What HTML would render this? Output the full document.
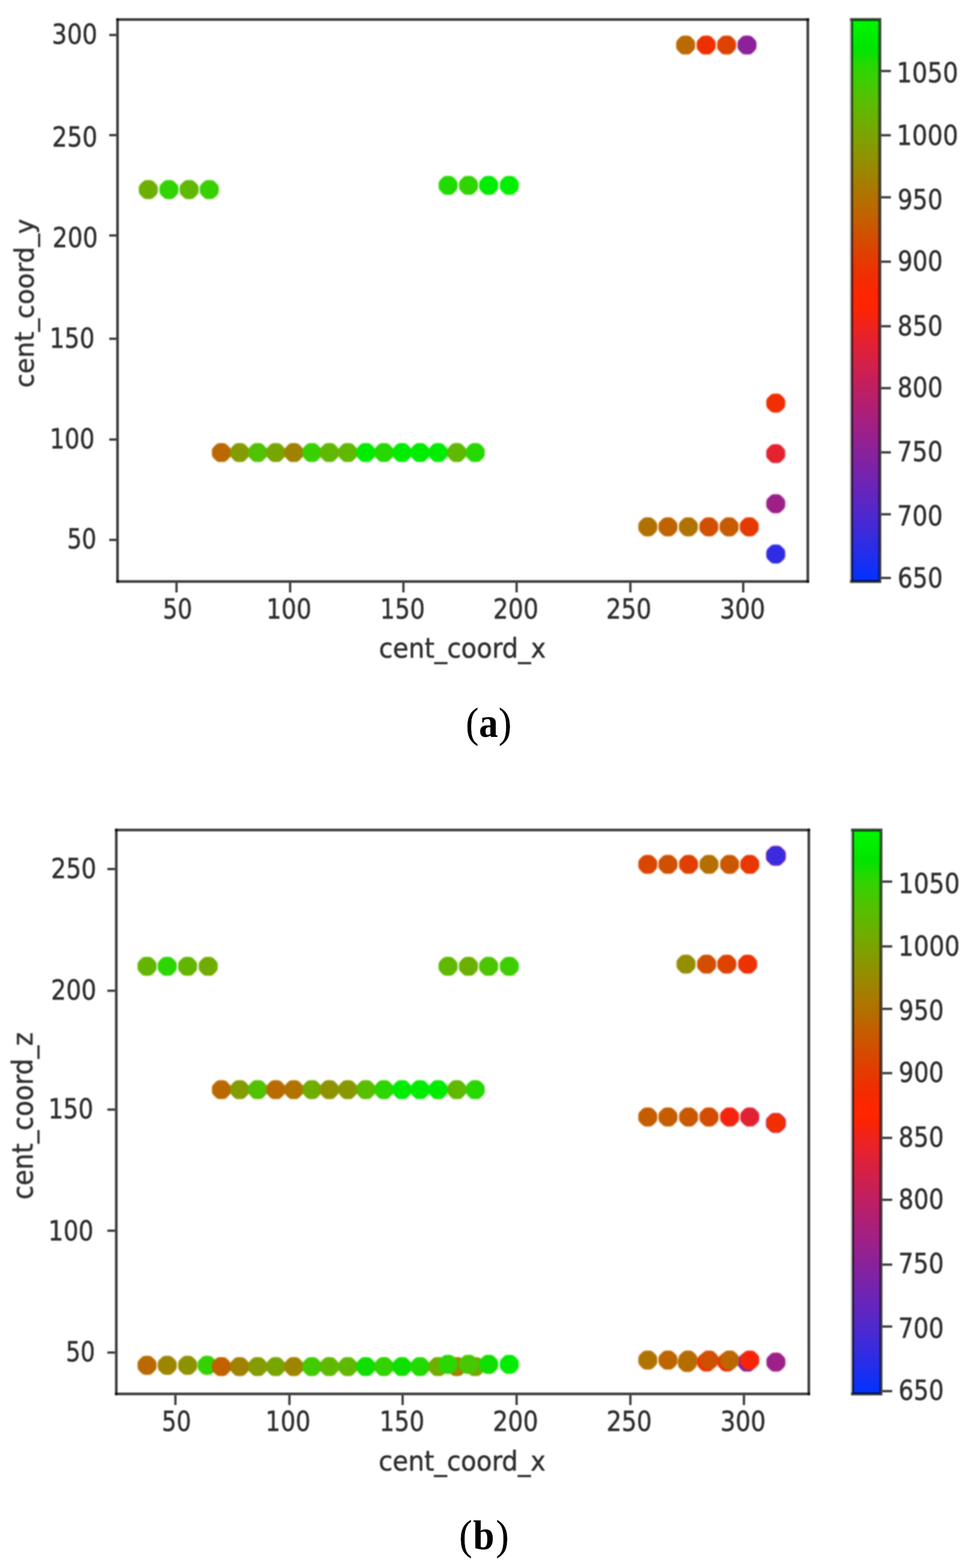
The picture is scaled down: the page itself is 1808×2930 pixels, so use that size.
<!DOCTYPE html>
<html lang="en"><head><meta charset="utf-8"><title>Figure: cent_coord scatter plots</title>
<style>html,body{margin:0;padding:0;background:#fff}svg{display:block}</style></head><body>
<svg width="1808" height="2930" viewBox="0 0 1808 2930">
<defs>
<filter id="bl" filterUnits="userSpaceOnUse" x="0" y="0" width="1808" height="2930" color-interpolation-filters="sRGB"><feGaussianBlur stdDeviation="1.3"/></filter>
<filter id="bd" filterUnits="userSpaceOnUse" x="0" y="0" width="1808" height="2930" color-interpolation-filters="sRGB"><feGaussianBlur stdDeviation="1.5"/></filter>
<linearGradient id="cmap" x1="0" y1="0" x2="0" y2="1"><stop offset="0.0000" stop-color="#00f900"/><stop offset="0.0125" stop-color="#00f400"/><stop offset="0.0250" stop-color="#00ef00"/><stop offset="0.0375" stop-color="#00ea00"/><stop offset="0.0500" stop-color="#00e500"/><stop offset="0.0625" stop-color="#0be000"/><stop offset="0.0750" stop-color="#1fdb00"/><stop offset="0.0875" stop-color="#2dd600"/><stop offset="0.1000" stop-color="#37d100"/><stop offset="0.1125" stop-color="#41cb00"/><stop offset="0.1250" stop-color="#4ac600"/><stop offset="0.1375" stop-color="#53c100"/><stop offset="0.1500" stop-color="#5bbc00"/><stop offset="0.1625" stop-color="#62b600"/><stop offset="0.1750" stop-color="#6ab100"/><stop offset="0.1875" stop-color="#71ac00"/><stop offset="0.2000" stop-color="#78a600"/><stop offset="0.2125" stop-color="#7ea100"/><stop offset="0.2250" stop-color="#859b00"/><stop offset="0.2375" stop-color="#8b9500"/><stop offset="0.2500" stop-color="#929000"/><stop offset="0.2625" stop-color="#988a00"/><stop offset="0.2750" stop-color="#9e8400"/><stop offset="0.2875" stop-color="#a47e00"/><stop offset="0.3000" stop-color="#aa7900"/><stop offset="0.3125" stop-color="#b07300"/><stop offset="0.3250" stop-color="#b66d00"/><stop offset="0.3375" stop-color="#bc6700"/><stop offset="0.3500" stop-color="#c26100"/><stop offset="0.3625" stop-color="#c75b00"/><stop offset="0.3750" stop-color="#cd5400"/><stop offset="0.3875" stop-color="#d24e00"/><stop offset="0.4000" stop-color="#d84800"/><stop offset="0.4125" stop-color="#dd4200"/><stop offset="0.4250" stop-color="#e33c00"/><stop offset="0.4375" stop-color="#e83700"/><stop offset="0.4500" stop-color="#ed3100"/><stop offset="0.4625" stop-color="#f22d00"/><stop offset="0.4750" stop-color="#f82900"/><stop offset="0.4875" stop-color="#fd2600"/><stop offset="0.5000" stop-color="#ff2600"/><stop offset="0.5125" stop-color="#fd2500"/><stop offset="0.5250" stop-color="#f8240a"/><stop offset="0.5375" stop-color="#f22316"/><stop offset="0.5500" stop-color="#ed2320"/><stop offset="0.5625" stop-color="#e82229"/><stop offset="0.5750" stop-color="#e32132"/><stop offset="0.5875" stop-color="#dd213a"/><stop offset="0.6000" stop-color="#d82042"/><stop offset="0.6125" stop-color="#d32049"/><stop offset="0.6250" stop-color="#cd2051"/><stop offset="0.6375" stop-color="#c81f58"/><stop offset="0.6500" stop-color="#c21f5f"/><stop offset="0.6625" stop-color="#bc1f66"/><stop offset="0.6750" stop-color="#b71f6c"/><stop offset="0.6875" stop-color="#b11f73"/><stop offset="0.7000" stop-color="#ab1f79"/><stop offset="0.7125" stop-color="#a62080"/><stop offset="0.7250" stop-color="#a02086"/><stop offset="0.7375" stop-color="#9a208c"/><stop offset="0.7500" stop-color="#942192"/><stop offset="0.7625" stop-color="#8e2198"/><stop offset="0.7750" stop-color="#87229e"/><stop offset="0.7875" stop-color="#8122a4"/><stop offset="0.8000" stop-color="#7b23aa"/><stop offset="0.8125" stop-color="#7424af"/><stop offset="0.8250" stop-color="#6e24b5"/><stop offset="0.8375" stop-color="#6725bb"/><stop offset="0.8500" stop-color="#6026c0"/><stop offset="0.8625" stop-color="#5a27c6"/><stop offset="0.8750" stop-color="#5228cb"/><stop offset="0.8875" stop-color="#4b29d0"/><stop offset="0.9000" stop-color="#442ad6"/><stop offset="0.9125" stop-color="#3c2bdb"/><stop offset="0.9250" stop-color="#342ce0"/><stop offset="0.9375" stop-color="#2c2de6"/><stop offset="0.9500" stop-color="#242eeb"/><stop offset="0.9625" stop-color="#1b2ff0"/><stop offset="0.9750" stop-color="#1230f5"/><stop offset="0.9875" stop-color="#0931fa"/><stop offset="1.0000" stop-color="#0433ff"/></linearGradient>
</defs>
<rect width="1808" height="2930" fill="#fff"/>
<g id="plot-a" font-family="'DejaVu Sans', 'Liberation Sans', sans-serif" fill="#303030">
<g filter="url(#bd)">
<polygon points="273.4,345.5 280.6,345.5 285.7,350.6 285.7,357.8 280.6,362.9 273.4,362.9 268.3,357.8 268.3,350.6" fill="#6caf00" stroke="#6caf00" stroke-width="18" stroke-linejoin="round"/>
<polygon points="311.9,345.5 319.1,345.5 324.2,350.6 324.2,357.8 319.1,362.9 311.9,362.9 306.8,357.8 306.8,350.6" fill="#30d400" stroke="#30d400" stroke-width="18" stroke-linejoin="round"/>
<polygon points="349.6,345.5 356.8,345.5 361.9,350.6 361.9,357.8 356.8,362.9 349.6,362.9 344.5,357.8 344.5,350.6" fill="#60b800" stroke="#60b800" stroke-width="18" stroke-linejoin="round"/>
<polygon points="387.3,345.5 394.5,345.5 399.6,350.6 399.6,357.8 394.5,362.9 387.3,362.9 382.2,357.8 382.2,350.6" fill="#38d100" stroke="#38d100" stroke-width="18" stroke-linejoin="round"/>
<polygon points="833.3,337.7 840.5,337.7 845.6,342.8 845.6,350.0 840.5,355.1 833.3,355.1 828.2,350.0 828.2,342.8" fill="#20db00" stroke="#20db00" stroke-width="18" stroke-linejoin="round"/>
<polygon points="871.4,337.7 878.6,337.7 883.7,342.8 883.7,350.0 878.6,355.1 871.4,355.1 866.3,350.0 866.3,342.8" fill="#30d400" stroke="#30d400" stroke-width="18" stroke-linejoin="round"/>
<polygon points="909.1,337.7 916.3,337.7 921.4,342.8 921.4,350.0 916.3,355.1 909.1,355.1 904.0,350.0 904.0,342.8" fill="#00ec00" stroke="#00ec00" stroke-width="18" stroke-linejoin="round"/>
<polygon points="947.6,337.7 954.8,337.7 959.9,342.8 959.9,350.0 954.8,355.1 947.6,355.1 942.5,350.0 942.5,342.8" fill="#00f000" stroke="#00f000" stroke-width="18" stroke-linejoin="round"/>
<polygon points="1277.0,75.4 1284.2,75.4 1289.3,80.5 1289.3,87.7 1284.2,92.8 1277.0,92.8 1271.9,87.7 1271.9,80.5" fill="#b96a00" stroke="#b96a00" stroke-width="18" stroke-linejoin="round"/>
<polygon points="1315.4,75.4 1322.6,75.4 1327.7,80.5 1327.7,87.7 1322.6,92.8 1315.4,92.8 1310.3,87.7 1310.3,80.5" fill="#ee3000" stroke="#ee3000" stroke-width="18" stroke-linejoin="round"/>
<polygon points="1353.5,75.4 1360.7,75.4 1365.8,80.5 1365.8,87.7 1360.7,92.8 1353.5,92.8 1348.4,87.7 1348.4,80.5" fill="#dc4300" stroke="#dc4300" stroke-width="18" stroke-linejoin="round"/>
<polygon points="1391.6,75.4 1398.8,75.4 1403.9,80.5 1403.9,87.7 1398.8,92.8 1391.6,92.8 1386.5,87.7 1386.5,80.5" fill="#8c2199" stroke="#8c2199" stroke-width="18" stroke-linejoin="round"/>
<polygon points="409.9,836.9 417.1,836.9 422.2,842.0 422.2,849.2 417.1,854.3 409.9,854.3 404.8,849.2 404.8,842.0" fill="#ba6900" stroke="#ba6900" stroke-width="18" stroke-linejoin="round"/>
<polygon points="444.0,836.9 451.2,836.9 456.3,842.0 456.3,849.2 451.2,854.3 444.0,854.3 438.9,849.2 438.9,842.0" fill="#849c00" stroke="#849c00" stroke-width="18" stroke-linejoin="round"/>
<polygon points="477.7,836.9 484.9,836.9 490.0,842.0 490.0,849.2 484.9,854.3 477.7,854.3 472.6,849.2 472.6,842.0" fill="#50c200" stroke="#50c200" stroke-width="18" stroke-linejoin="round"/>
<polygon points="511.5,836.9 518.7,836.9 523.8,842.0 523.8,849.2 518.7,854.3 511.5,854.3 506.4,849.2 506.4,842.0" fill="#78a600" stroke="#78a600" stroke-width="18" stroke-linejoin="round"/>
<polygon points="545.2,836.9 552.4,836.9 557.5,842.0 557.5,849.2 552.4,854.3 545.2,854.3 540.1,849.2 540.1,842.0" fill="#a18100" stroke="#a18100" stroke-width="18" stroke-linejoin="round"/>
<polygon points="578.9,836.9 586.1,836.9 591.2,842.0 591.2,849.2 586.1,854.3 578.9,854.3 573.8,849.2 573.8,842.0" fill="#38d100" stroke="#38d100" stroke-width="18" stroke-linejoin="round"/>
<polygon points="611.5,836.9 618.7,836.9 623.8,842.0 623.8,849.2 618.7,854.3 611.5,854.3 606.4,849.2 606.4,842.0" fill="#60b800" stroke="#60b800" stroke-width="18" stroke-linejoin="round"/>
<polygon points="646.0,836.9 653.2,836.9 658.3,842.0 658.3,849.2 653.2,854.3 646.0,854.3 640.9,849.2 640.9,842.0" fill="#60b800" stroke="#60b800" stroke-width="18" stroke-linejoin="round"/>
<polygon points="679.7,836.9 686.9,836.9 692.0,842.0 692.0,849.2 686.9,854.3 679.7,854.3 674.6,849.2 674.6,842.0" fill="#00ec00" stroke="#00ec00" stroke-width="18" stroke-linejoin="round"/>
<polygon points="713.5,836.9 720.7,836.9 725.8,842.0 725.8,849.2 720.7,854.3 713.5,854.3 708.4,849.2 708.4,842.0" fill="#27d800" stroke="#27d800" stroke-width="18" stroke-linejoin="round"/>
<polygon points="747.2,836.9 754.4,836.9 759.5,842.0 759.5,849.2 754.4,854.3 747.2,854.3 742.1,849.2 742.1,842.0" fill="#00ec00" stroke="#00ec00" stroke-width="18" stroke-linejoin="round"/>
<polygon points="780.9,836.9 788.1,836.9 793.2,842.0 793.2,849.2 788.1,854.3 780.9,854.3 775.8,849.2 775.8,842.0" fill="#00ec00" stroke="#00ec00" stroke-width="18" stroke-linejoin="round"/>
<polygon points="814.7,836.9 821.9,836.9 827.0,842.0 827.0,849.2 821.9,854.3 814.7,854.3 809.6,849.2 809.6,842.0" fill="#00ec00" stroke="#00ec00" stroke-width="18" stroke-linejoin="round"/>
<polygon points="849.6,836.9 856.8,836.9 861.9,842.0 861.9,849.2 856.8,854.3 849.6,854.3 844.5,849.2 844.5,842.0" fill="#60b800" stroke="#60b800" stroke-width="18" stroke-linejoin="round"/>
<polygon points="884.1,836.9 891.3,836.9 896.4,842.0 896.4,849.2 891.3,854.3 884.1,854.3 879.0,849.2 879.0,842.0" fill="#27d800" stroke="#27d800" stroke-width="18" stroke-linejoin="round"/>
<polygon points="1206.3,975.8 1213.5,975.8 1218.6,980.9 1218.6,988.1 1213.5,993.2 1206.3,993.2 1201.2,988.1 1201.2,980.9" fill="#b17100" stroke="#b17100" stroke-width="18" stroke-linejoin="round"/>
<polygon points="1244.0,975.8 1251.2,975.8 1256.3,980.9 1256.3,988.1 1251.2,993.2 1244.0,993.2 1238.9,988.1 1238.9,980.9" fill="#bf6300" stroke="#bf6300" stroke-width="18" stroke-linejoin="round"/>
<polygon points="1282.1,975.8 1289.3,975.8 1294.4,980.9 1294.4,988.1 1289.3,993.2 1282.1,993.2 1277.0,988.1 1277.0,980.9" fill="#b07300" stroke="#b07300" stroke-width="18" stroke-linejoin="round"/>
<polygon points="1320.4,975.8 1327.6,975.8 1332.7,980.9 1332.7,988.1 1327.6,993.2 1320.4,993.2 1315.3,988.1 1315.3,980.9" fill="#d15000" stroke="#d15000" stroke-width="18" stroke-linejoin="round"/>
<polygon points="1358.1,975.8 1365.3,975.8 1370.4,980.9 1370.4,988.1 1365.3,993.2 1358.1,993.2 1353.0,988.1 1353.0,980.9" fill="#c75b00" stroke="#c75b00" stroke-width="18" stroke-linejoin="round"/>
<polygon points="1395.8,975.8 1403.0,975.8 1408.1,980.9 1408.1,988.1 1403.0,993.2 1395.8,993.2 1390.7,988.1 1390.7,980.9" fill="#e63900" stroke="#e63900" stroke-width="18" stroke-linejoin="round"/>
<polygon points="1445.3,744.5 1452.5,744.5 1457.6,749.6 1457.6,756.8 1452.5,761.9 1445.3,761.9 1440.2,756.8 1440.2,749.6" fill="#f02e00" stroke="#f02e00" stroke-width="18" stroke-linejoin="round"/>
<polygon points="1445.3,838.9 1452.5,838.9 1457.6,844.0 1457.6,851.2 1452.5,856.3 1445.3,856.3 1440.2,851.2 1440.2,844.0" fill="#e42230" stroke="#e42230" stroke-width="18" stroke-linejoin="round"/>
<polygon points="1445.3,932.6 1452.5,932.6 1457.6,937.7 1457.6,944.9 1452.5,950.0 1445.3,950.0 1440.2,944.9 1440.2,937.7" fill="#9d2089" stroke="#9d2089" stroke-width="18" stroke-linejoin="round"/>
<polygon points="1445.3,1026.6 1452.5,1026.6 1457.6,1031.7 1457.6,1038.9 1452.5,1044.0 1445.3,1044.0 1440.2,1038.9 1440.2,1031.7" fill="#302ce3" stroke="#302ce3" stroke-width="18" stroke-linejoin="round"/>
</g>
<g filter="url(#bl)">
<rect x="217.0" y="34.00" width="1294.3" height="5.00" fill="#000" fill-opacity="0.75"/>
<rect x="217.0" y="1084.10" width="1294.3" height="5.00" fill="#000" fill-opacity="0.75"/>
<rect x="217.00" y="34.0" width="5.00" height="1055.1" fill="#000" fill-opacity="0.75"/>
<rect x="1506.30" y="34.0" width="5.00" height="1055.1" fill="#000" fill-opacity="0.75"/>
<rect x="327.50" y="1089.1" width="4.40" height="17.9" fill="#000" fill-opacity="0.75"/>
<text font-size="50" transform="matrix(0.8602 0 0 1.0429 304.32 1156.17)" stroke="#303030" stroke-width="0.7" stroke-linejoin="round">50</text>
<rect x="539.70" y="1089.1" width="4.40" height="17.9" fill="#000" fill-opacity="0.75"/>
<text font-size="50" transform="matrix(0.8820 0 0 1.0429 497.55 1156.17)" stroke="#303030" stroke-width="0.7" stroke-linejoin="round">100</text>
<rect x="751.30" y="1089.1" width="4.40" height="17.9" fill="#000" fill-opacity="0.75"/>
<text font-size="50" transform="matrix(0.8820 0 0 1.0429 709.70 1156.17)" stroke="#303030" stroke-width="0.7" stroke-linejoin="round">150</text>
<rect x="962.70" y="1089.1" width="4.40" height="17.9" fill="#000" fill-opacity="0.75"/>
<text font-size="50" transform="matrix(0.8881 0 0 1.0429 921.08 1156.17)" stroke="#303030" stroke-width="0.7" stroke-linejoin="round">200</text>
<rect x="1175.20" y="1089.1" width="4.40" height="17.9" fill="#000" fill-opacity="0.75"/>
<text font-size="50" transform="matrix(0.8881 0 0 1.0429 1132.08 1156.17)" stroke="#303030" stroke-width="0.7" stroke-linejoin="round">250</text>
<rect x="1386.00" y="1089.1" width="4.40" height="17.9" fill="#000" fill-opacity="0.75"/>
<text font-size="50" transform="matrix(0.8894 0 0 1.0429 1344.51 1156.17)" stroke="#303030" stroke-width="0.7" stroke-linejoin="round">300</text>
<rect x="204.0" y="63.20" width="13.0" height="4.40" fill="#000" fill-opacity="0.75"/>
<text font-size="50" transform="matrix(0.8894 0 0 1.0429 96.86 81.57)" stroke="#303030" stroke-width="0.7" stroke-linejoin="round">300</text>
<rect x="204.0" y="250.30" width="13.0" height="4.40" fill="#000" fill-opacity="0.75"/>
<text font-size="50" transform="matrix(0.8881 0 0 1.0429 97.28 274.32)" stroke="#303030" stroke-width="0.7" stroke-linejoin="round">250</text>
<rect x="204.0" y="437.80" width="13.0" height="4.40" fill="#000" fill-opacity="0.75"/>
<text font-size="50" transform="matrix(0.8881 0 0 1.0429 98.03 462.37)" stroke="#303030" stroke-width="0.7" stroke-linejoin="round">200</text>
<rect x="204.0" y="630.80" width="13.0" height="4.40" fill="#000" fill-opacity="0.75"/>
<text font-size="50" transform="matrix(0.8820 0 0 1.0429 92.55 649.57)" stroke="#303030" stroke-width="0.7" stroke-linejoin="round">150</text>
<rect x="204.0" y="819.10" width="13.0" height="4.40" fill="#000" fill-opacity="0.75"/>
<text font-size="50" transform="matrix(0.8820 0 0 1.0429 92.75 837.72)" stroke="#303030" stroke-width="0.7" stroke-linejoin="round">100</text>
<rect x="204.0" y="1006.70" width="13.0" height="4.40" fill="#000" fill-opacity="0.75"/>
<text font-size="50" transform="matrix(0.8602 0 0 1.0429 125.42 1024.97)" stroke="#303030" stroke-width="0.7" stroke-linejoin="round">50</text>
<text font-size="50" transform="matrix(0.9472 0 0 1.0184 707.80 1229.00)" stroke="#303030" stroke-width="0.7" stroke-linejoin="round">cent_coord_x</text>
<text font-size="50" transform="matrix(0 -0.9594 1.0000 0 62.90 724.54)" stroke="#303030" stroke-width="0.7" stroke-linejoin="round">cent_coord_y</text>
<rect x="1590.3" y="36.5" width="53.0" height="1050.1" fill="url(#cmap)"/>
<rect x="1587.5" y="33.70" width="58.6" height="5.60" fill="#000" fill-opacity="0.7"/>
<rect x="1587.5" y="1083.80" width="58.6" height="5.60" fill="#000" fill-opacity="0.72"/>
<rect x="1587.50" y="39.3" width="2.80" height="1044.5" fill="#000" fill-opacity="0.36"/>
<rect x="1590.30" y="39.3" width="2.80" height="1044.5" fill="#000" fill-opacity="0.76"/>
<rect x="1640.50" y="39.3" width="2.80" height="1044.5" fill="#000" fill-opacity="0.6"/>
<rect x="1643.30" y="39.3" width="2.80" height="1044.5" fill="#000" fill-opacity="0.74"/>
<rect x="1646.1" y="130.50" width="17.9" height="4.40" fill="#000" fill-opacity="0.75"/>
<text font-size="50" transform="matrix(0.9030 0 0 1.0429 1674.73 153.57)" stroke="#303030" stroke-width="0.7" stroke-linejoin="round">1050</text>
<rect x="1646.1" y="250.50" width="17.9" height="4.40" fill="#000" fill-opacity="0.75"/>
<text font-size="50" transform="matrix(0.9030 0 0 1.0429 1674.73 270.67)" stroke="#303030" stroke-width="0.7" stroke-linejoin="round">1000</text>
<rect x="1646.1" y="366.50" width="17.9" height="4.40" fill="#000" fill-opacity="0.75"/>
<text font-size="50" transform="matrix(0.8831 0 0 1.0429 1676.54 390.87)" stroke="#303030" stroke-width="0.7" stroke-linejoin="round">950</text>
<rect x="1646.1" y="486.80" width="17.9" height="4.40" fill="#000" fill-opacity="0.75"/>
<text font-size="50" transform="matrix(0.8831 0 0 1.0429 1676.54 505.87)" stroke="#303030" stroke-width="0.7" stroke-linejoin="round">900</text>
<rect x="1646.1" y="607.40" width="17.9" height="4.40" fill="#000" fill-opacity="0.75"/>
<text font-size="50" transform="matrix(0.8856 0 0 1.0429 1676.31 626.87)" stroke="#303030" stroke-width="0.7" stroke-linejoin="round">850</text>
<rect x="1646.1" y="723.10" width="17.9" height="4.40" fill="#000" fill-opacity="0.75"/>
<text font-size="50" transform="matrix(0.8856 0 0 1.0429 1676.31 742.07)" stroke="#303030" stroke-width="0.7" stroke-linejoin="round">800</text>
<rect x="1646.1" y="843.10" width="17.9" height="4.40" fill="#000" fill-opacity="0.75"/>
<text font-size="50" transform="matrix(0.8932 0 0 1.0429 1675.62 862.12)" stroke="#303030" stroke-width="0.7" stroke-linejoin="round">750</text>
<rect x="1646.1" y="958.80" width="17.9" height="4.40" fill="#000" fill-opacity="0.75"/>
<text font-size="50" transform="matrix(0.8932 0 0 1.0429 1675.62 982.12)" stroke="#303030" stroke-width="0.7" stroke-linejoin="round">700</text>
<rect x="1646.1" y="1077.80" width="17.9" height="4.40" fill="#000" fill-opacity="0.75"/>
<text font-size="50" transform="matrix(0.8869 0 0 1.0429 1676.40 1097.57)" stroke="#303030" stroke-width="0.7" stroke-linejoin="round">650</text>
</g></g>
<g id="plot-b" font-family="'DejaVu Sans', 'Liberation Sans', sans-serif" fill="#303030">
<g filter="url(#bd)">
<polygon points="271.0,2542.5 278.2,2542.5 283.3,2547.6 283.3,2554.8 278.2,2559.9 271.0,2559.9 265.9,2554.8 265.9,2547.6" fill="#ba6900" stroke="#ba6900" stroke-width="18" stroke-linejoin="round"/>
<polygon points="308.7,2542.5 315.9,2542.5 321.0,2547.6 321.0,2554.8 315.9,2559.9 308.7,2559.9 303.6,2554.8 303.6,2547.6" fill="#9e8500" stroke="#9e8500" stroke-width="18" stroke-linejoin="round"/>
<polygon points="346.8,2542.5 354.0,2542.5 359.1,2547.6 359.1,2554.8 354.0,2559.9 346.8,2559.9 341.7,2554.8 341.7,2547.6" fill="#8f9200" stroke="#8f9200" stroke-width="18" stroke-linejoin="round"/>
<polygon points="383.3,2542.5 390.5,2542.5 395.6,2547.6 395.6,2554.8 390.5,2559.9 383.3,2559.9 378.2,2554.8 378.2,2547.6" fill="#32d300" stroke="#32d300" stroke-width="18" stroke-linejoin="round"/>
<polygon points="409.9,2544.9 417.1,2544.9 422.2,2550.0 422.2,2557.2 417.1,2562.3 409.9,2562.3 404.8,2557.2 404.8,2550.0" fill="#c16100" stroke="#c16100" stroke-width="18" stroke-linejoin="round"/>
<polygon points="444.0,2544.9 451.2,2544.9 456.3,2550.0 456.3,2557.2 451.2,2562.3 444.0,2562.3 438.9,2557.2 438.9,2550.0" fill="#a18100" stroke="#a18100" stroke-width="18" stroke-linejoin="round"/>
<polygon points="477.7,2544.9 484.9,2544.9 490.0,2550.0 490.0,2557.2 484.9,2562.3 477.7,2562.3 472.6,2557.2 472.6,2550.0" fill="#849c00" stroke="#849c00" stroke-width="18" stroke-linejoin="round"/>
<polygon points="511.5,2544.9 518.7,2544.9 523.8,2550.0 523.8,2557.2 518.7,2562.3 511.5,2562.3 506.4,2557.2 506.4,2550.0" fill="#78a600" stroke="#78a600" stroke-width="18" stroke-linejoin="round"/>
<polygon points="545.2,2544.9 552.4,2544.9 557.5,2550.0 557.5,2557.2 552.4,2562.3 545.2,2562.3 540.1,2557.2 540.1,2550.0" fill="#9e8500" stroke="#9e8500" stroke-width="18" stroke-linejoin="round"/>
<polygon points="578.9,2544.9 586.1,2544.9 591.2,2550.0 591.2,2557.2 586.1,2562.3 578.9,2562.3 573.8,2557.2 573.8,2550.0" fill="#42cb00" stroke="#42cb00" stroke-width="18" stroke-linejoin="round"/>
<polygon points="611.5,2544.9 618.7,2544.9 623.8,2550.0 623.8,2557.2 618.7,2562.3 611.5,2562.3 606.4,2557.2 606.4,2550.0" fill="#5fb900" stroke="#5fb900" stroke-width="18" stroke-linejoin="round"/>
<polygon points="646.0,2544.9 653.2,2544.9 658.3,2550.0 658.3,2557.2 653.2,2562.3 646.0,2562.3 640.9,2557.2 640.9,2550.0" fill="#5fb900" stroke="#5fb900" stroke-width="18" stroke-linejoin="round"/>
<polygon points="679.7,2544.9 686.9,2544.9 692.0,2550.0 692.0,2557.2 686.9,2562.3 679.7,2562.3 674.6,2557.2 674.6,2550.0" fill="#0fdf00" stroke="#0fdf00" stroke-width="18" stroke-linejoin="round"/>
<polygon points="713.5,2544.9 720.7,2544.9 725.8,2550.0 725.8,2557.2 720.7,2562.3 713.5,2562.3 708.4,2557.2 708.4,2550.0" fill="#32d300" stroke="#32d300" stroke-width="18" stroke-linejoin="round"/>
<polygon points="747.2,2544.9 754.4,2544.9 759.5,2550.0 759.5,2557.2 754.4,2562.3 747.2,2562.3 742.1,2557.2 742.1,2550.0" fill="#0fdf00" stroke="#0fdf00" stroke-width="18" stroke-linejoin="round"/>
<polygon points="780.9,2544.9 788.1,2544.9 793.2,2550.0 793.2,2557.2 788.1,2562.3 780.9,2562.3 775.8,2557.2 775.8,2550.0" fill="#23da00" stroke="#23da00" stroke-width="18" stroke-linejoin="round"/>
<polygon points="814.7,2544.9 821.9,2544.9 827.0,2550.0 827.0,2557.2 821.9,2562.3 814.7,2562.3 809.6,2557.2 809.6,2550.0" fill="#6fad00" stroke="#6fad00" stroke-width="18" stroke-linejoin="round"/>
<polygon points="849.6,2544.9 856.8,2544.9 861.9,2550.0 861.9,2557.2 856.8,2562.3 849.6,2562.3 844.5,2557.2 844.5,2550.0" fill="#a18100" stroke="#a18100" stroke-width="18" stroke-linejoin="round"/>
<polygon points="884.1,2544.9 891.3,2544.9 896.4,2550.0 896.4,2557.2 891.3,2562.3 884.1,2562.3 879.0,2557.2 879.0,2550.0" fill="#78a600" stroke="#78a600" stroke-width="18" stroke-linejoin="round"/>
<polygon points="833.3,2540.8 840.5,2540.8 845.6,2545.9 845.6,2553.1 840.5,2558.2 833.3,2558.2 828.2,2553.1 828.2,2545.9" fill="#2cd600" stroke="#2cd600" stroke-width="18" stroke-linejoin="round"/>
<polygon points="871.4,2540.8 878.6,2540.8 883.7,2545.9 883.7,2553.1 878.6,2558.2 871.4,2558.2 866.3,2553.1 866.3,2545.9" fill="#47c800" stroke="#47c800" stroke-width="18" stroke-linejoin="round"/>
<polygon points="909.1,2540.8 916.3,2540.8 921.4,2545.9 921.4,2553.1 916.3,2558.2 909.1,2558.2 904.0,2553.1 904.0,2545.9" fill="#0fdf00" stroke="#0fdf00" stroke-width="18" stroke-linejoin="round"/>
<polygon points="947.6,2540.8 954.8,2540.8 959.9,2545.9 959.9,2553.1 954.8,2558.2 947.6,2558.2 942.5,2553.1 942.5,2545.9" fill="#00ec00" stroke="#00ec00" stroke-width="18" stroke-linejoin="round"/>
<polygon points="1280.2,2537.3 1287.4,2537.3 1292.5,2542.4 1292.5,2549.6 1287.4,2554.7 1280.2,2554.7 1275.1,2549.6 1275.1,2542.4" fill="#b66d00" stroke="#b66d00" stroke-width="18" stroke-linejoin="round"/>
<polygon points="1316.3,2536.3 1323.5,2536.3 1328.6,2541.4 1328.6,2548.6 1323.5,2553.7 1316.3,2553.7 1311.2,2548.6 1311.2,2541.4" fill="#f42b00" stroke="#f42b00" stroke-width="18" stroke-linejoin="round"/>
<polygon points="1354.4,2536.3 1361.6,2536.3 1366.7,2541.4 1366.7,2548.6 1361.6,2553.7 1354.4,2553.7 1349.3,2548.6 1349.3,2541.4" fill="#f42b00" stroke="#f42b00" stroke-width="18" stroke-linejoin="round"/>
<polygon points="1392.0,2536.7 1399.2,2536.7 1404.3,2541.8 1404.3,2549.0 1399.2,2554.1 1392.0,2554.1 1386.9,2549.0 1386.9,2541.8" fill="#8c2199" stroke="#8c2199" stroke-width="18" stroke-linejoin="round"/>
<polygon points="1206.3,2532.8 1213.5,2532.8 1218.6,2537.9 1218.6,2545.1 1213.5,2550.2 1206.3,2550.2 1201.2,2545.1 1201.2,2537.9" fill="#b07300" stroke="#b07300" stroke-width="18" stroke-linejoin="round"/>
<polygon points="1244.0,2532.8 1251.2,2532.8 1256.3,2537.9 1256.3,2545.1 1251.2,2550.2 1244.0,2550.2 1238.9,2545.1 1238.9,2537.9" fill="#bd6600" stroke="#bd6600" stroke-width="18" stroke-linejoin="round"/>
<polygon points="1281.4,2532.8 1288.6,2532.8 1293.7,2537.9 1293.7,2545.1 1288.6,2550.2 1281.4,2550.2 1276.3,2545.1 1276.3,2537.9" fill="#b66d00" stroke="#b66d00" stroke-width="18" stroke-linejoin="round"/>
<polygon points="1320.6,2532.8 1327.8,2532.8 1332.9,2537.9 1332.9,2545.1 1327.8,2550.2 1320.6,2550.2 1315.5,2545.1 1315.5,2537.9" fill="#d15000" stroke="#d15000" stroke-width="18" stroke-linejoin="round"/>
<polygon points="1359.1,2532.8 1366.3,2532.8 1371.4,2537.9 1371.4,2545.1 1366.3,2550.2 1359.1,2550.2 1354.0,2545.1 1354.0,2537.9" fill="#bd6600" stroke="#bd6600" stroke-width="18" stroke-linejoin="round"/>
<polygon points="1396.8,2532.8 1404.0,2532.8 1409.1,2537.9 1409.1,2545.1 1404.0,2550.2 1396.8,2550.2 1391.7,2545.1 1391.7,2537.9" fill="#f82408" stroke="#f82408" stroke-width="18" stroke-linejoin="round"/>
<polygon points="1445.6,2536.5 1452.8,2536.5 1457.9,2541.6 1457.9,2548.8 1452.8,2553.9 1445.6,2553.9 1440.5,2548.8 1440.5,2541.6" fill="#9d2089" stroke="#9d2089" stroke-width="18" stroke-linejoin="round"/>
<polygon points="409.9,2027.4 417.1,2027.4 422.2,2032.5 422.2,2039.7 417.1,2044.8 409.9,2044.8 404.8,2039.7 404.8,2032.5" fill="#ba6900" stroke="#ba6900" stroke-width="18" stroke-linejoin="round"/>
<polygon points="444.0,2027.4 451.2,2027.4 456.3,2032.5 456.3,2039.7 451.2,2044.8 444.0,2044.8 438.9,2039.7 438.9,2032.5" fill="#849c00" stroke="#849c00" stroke-width="18" stroke-linejoin="round"/>
<polygon points="477.7,2027.4 484.9,2027.4 490.0,2032.5 490.0,2039.7 484.9,2044.8 477.7,2044.8 472.6,2039.7 472.6,2032.5" fill="#50c200" stroke="#50c200" stroke-width="18" stroke-linejoin="round"/>
<polygon points="511.5,2027.4 518.7,2027.4 523.8,2032.5 523.8,2039.7 518.7,2044.8 511.5,2044.8 506.4,2039.7 506.4,2032.5" fill="#b86b00" stroke="#b86b00" stroke-width="18" stroke-linejoin="round"/>
<polygon points="545.2,2027.4 552.4,2027.4 557.5,2032.5 557.5,2039.7 552.4,2044.8 545.2,2044.8 540.1,2039.7 540.1,2032.5" fill="#b07300" stroke="#b07300" stroke-width="18" stroke-linejoin="round"/>
<polygon points="578.9,2027.4 586.1,2027.4 591.2,2032.5 591.2,2039.7 586.1,2044.8 578.9,2044.8 573.8,2039.7 573.8,2032.5" fill="#6fad00" stroke="#6fad00" stroke-width="18" stroke-linejoin="round"/>
<polygon points="611.5,2027.4 618.7,2027.4 623.8,2032.5 623.8,2039.7 618.7,2044.8 611.5,2044.8 606.4,2039.7 606.4,2032.5" fill="#8d9400" stroke="#8d9400" stroke-width="18" stroke-linejoin="round"/>
<polygon points="646.0,2027.4 653.2,2027.4 658.3,2032.5 658.3,2039.7 653.2,2044.8 646.0,2044.8 640.9,2039.7 640.9,2032.5" fill="#889800" stroke="#889800" stroke-width="18" stroke-linejoin="round"/>
<polygon points="679.7,2027.4 686.9,2027.4 692.0,2032.5 692.0,2039.7 686.9,2044.8 679.7,2044.8 674.6,2039.7 674.6,2032.5" fill="#59bd00" stroke="#59bd00" stroke-width="18" stroke-linejoin="round"/>
<polygon points="713.5,2027.4 720.7,2027.4 725.8,2032.5 725.8,2039.7 720.7,2044.8 713.5,2044.8 708.4,2039.7 708.4,2032.5" fill="#2cd600" stroke="#2cd600" stroke-width="18" stroke-linejoin="round"/>
<polygon points="747.2,2027.4 754.4,2027.4 759.5,2032.5 759.5,2039.7 754.4,2044.8 747.2,2044.8 742.1,2039.7 742.1,2032.5" fill="#00ec00" stroke="#00ec00" stroke-width="18" stroke-linejoin="round"/>
<polygon points="780.9,2027.4 788.1,2027.4 793.2,2032.5 793.2,2039.7 788.1,2044.8 780.9,2044.8 775.8,2039.7 775.8,2032.5" fill="#00ec00" stroke="#00ec00" stroke-width="18" stroke-linejoin="round"/>
<polygon points="814.7,2027.4 821.9,2027.4 827.0,2032.5 827.0,2039.7 821.9,2044.8 814.7,2044.8 809.6,2039.7 809.6,2032.5" fill="#00ec00" stroke="#00ec00" stroke-width="18" stroke-linejoin="round"/>
<polygon points="849.6,2027.4 856.8,2027.4 861.9,2032.5 861.9,2039.7 856.8,2044.8 849.6,2044.8 844.5,2039.7 844.5,2032.5" fill="#60b800" stroke="#60b800" stroke-width="18" stroke-linejoin="round"/>
<polygon points="884.1,2027.4 891.3,2027.4 896.4,2032.5 896.4,2039.7 891.3,2044.8 884.1,2044.8 879.0,2039.7 879.0,2032.5" fill="#27d800" stroke="#27d800" stroke-width="18" stroke-linejoin="round"/>
<polygon points="271.0,1796.9 278.2,1796.9 283.3,1802.0 283.3,1809.2 278.2,1814.3 271.0,1814.3 265.9,1809.2 265.9,1802.0" fill="#64b500" stroke="#64b500" stroke-width="18" stroke-linejoin="round"/>
<polygon points="308.7,1796.9 315.9,1796.9 321.0,1802.0 321.0,1809.2 315.9,1814.3 308.7,1814.3 303.6,1809.2 303.6,1802.0" fill="#2cd600" stroke="#2cd600" stroke-width="18" stroke-linejoin="round"/>
<polygon points="346.8,1796.9 354.0,1796.9 359.1,1802.0 359.1,1809.2 354.0,1814.3 346.8,1814.3 341.7,1809.2 341.7,1802.0" fill="#64b500" stroke="#64b500" stroke-width="18" stroke-linejoin="round"/>
<polygon points="385.3,1796.9 392.5,1796.9 397.6,1802.0 397.6,1809.2 392.5,1814.3 385.3,1814.3 380.2,1809.2 380.2,1802.0" fill="#6fad00" stroke="#6fad00" stroke-width="18" stroke-linejoin="round"/>
<polygon points="833.3,1796.9 840.5,1796.9 845.6,1802.0 845.6,1809.2 840.5,1814.3 833.3,1814.3 828.2,1809.2 828.2,1802.0" fill="#5fb900" stroke="#5fb900" stroke-width="18" stroke-linejoin="round"/>
<polygon points="871.4,1796.9 878.6,1796.9 883.7,1802.0 883.7,1809.2 878.6,1814.3 871.4,1814.3 866.3,1809.2 866.3,1802.0" fill="#6bb000" stroke="#6bb000" stroke-width="18" stroke-linejoin="round"/>
<polygon points="909.1,1796.9 916.3,1796.9 921.4,1802.0 921.4,1809.2 916.3,1814.3 909.1,1814.3 904.0,1809.2 904.0,1802.0" fill="#4dc400" stroke="#4dc400" stroke-width="18" stroke-linejoin="round"/>
<polygon points="947.6,1796.9 954.8,1796.9 959.9,1802.0 959.9,1809.2 954.8,1814.3 947.6,1814.3 942.5,1809.2 942.5,1802.0" fill="#3dce00" stroke="#3dce00" stroke-width="18" stroke-linejoin="round"/>
<polygon points="1277.7,1792.9 1284.9,1792.9 1290.0,1798.0 1290.0,1805.2 1284.9,1810.3 1277.7,1810.3 1272.6,1805.2 1272.6,1798.0" fill="#938f00" stroke="#938f00" stroke-width="18" stroke-linejoin="round"/>
<polygon points="1316.2,1792.9 1323.4,1792.9 1328.5,1798.0 1328.5,1805.2 1323.4,1810.3 1316.2,1810.3 1311.1,1805.2 1311.1,1798.0" fill="#d24e00" stroke="#d24e00" stroke-width="18" stroke-linejoin="round"/>
<polygon points="1353.9,1792.9 1361.1,1792.9 1366.2,1798.0 1366.2,1805.2 1361.1,1810.3 1353.9,1810.3 1348.8,1805.2 1348.8,1798.0" fill="#dc4300" stroke="#dc4300" stroke-width="18" stroke-linejoin="round"/>
<polygon points="1392.8,1792.9 1400.0,1792.9 1405.1,1798.0 1405.1,1805.2 1400.0,1810.3 1392.8,1810.3 1387.7,1805.2 1387.7,1798.0" fill="#ed3100" stroke="#ed3100" stroke-width="18" stroke-linejoin="round"/>
<polygon points="1206.3,1606.4 1213.5,1606.4 1218.6,1611.5 1218.6,1618.7 1213.5,1623.8 1206.3,1623.8 1201.2,1618.7 1201.2,1611.5" fill="#da4600" stroke="#da4600" stroke-width="18" stroke-linejoin="round"/>
<polygon points="1244.0,1606.4 1251.2,1606.4 1256.3,1611.5 1256.3,1618.7 1251.2,1623.8 1244.0,1623.8 1238.9,1618.7 1238.9,1611.5" fill="#d15000" stroke="#d15000" stroke-width="18" stroke-linejoin="round"/>
<polygon points="1282.5,1606.4 1289.7,1606.4 1294.8,1611.5 1294.8,1618.7 1289.7,1623.8 1282.5,1623.8 1277.4,1618.7 1277.4,1611.5" fill="#e03f00" stroke="#e03f00" stroke-width="18" stroke-linejoin="round"/>
<polygon points="1320.6,1606.4 1327.8,1606.4 1332.9,1611.5 1332.9,1618.7 1327.8,1623.8 1320.6,1623.8 1315.5,1618.7 1315.5,1611.5" fill="#b46f00" stroke="#b46f00" stroke-width="18" stroke-linejoin="round"/>
<polygon points="1359.1,1606.4 1366.3,1606.4 1371.4,1611.5 1371.4,1618.7 1366.3,1623.8 1359.1,1623.8 1354.0,1618.7 1354.0,1611.5" fill="#c95800" stroke="#c95800" stroke-width="18" stroke-linejoin="round"/>
<polygon points="1396.8,1606.4 1404.0,1606.4 1409.1,1611.5 1409.1,1618.7 1404.0,1623.8 1396.8,1623.8 1391.7,1618.7 1391.7,1611.5" fill="#e83700" stroke="#e83700" stroke-width="18" stroke-linejoin="round"/>
<polygon points="1445.2,1589.6 1453.2,1589.6 1458.8,1595.2 1458.8,1603.2 1453.2,1608.8 1445.2,1608.8 1439.6,1603.2 1439.6,1595.2" fill="#9d2089" stroke="#9d2089" stroke-width="18" stroke-linejoin="round"/>
<polygon points="1445.6,1590.5 1452.8,1590.5 1457.9,1595.6 1457.9,1602.8 1452.8,1607.9 1445.6,1607.9 1440.5,1602.8 1440.5,1595.6" fill="#3b2bdc" stroke="#3b2bdc" stroke-width="18" stroke-linejoin="round"/>
<polygon points="1206.3,2078.6 1213.5,2078.6 1218.6,2083.7 1218.6,2090.9 1213.5,2096.0 1206.3,2096.0 1201.2,2090.9 1201.2,2083.7" fill="#c55d00" stroke="#c55d00" stroke-width="18" stroke-linejoin="round"/>
<polygon points="1244.0,2078.6 1251.2,2078.6 1256.3,2083.7 1256.3,2090.9 1251.2,2096.0 1244.0,2096.0 1238.9,2090.9 1238.9,2083.7" fill="#c55d00" stroke="#c55d00" stroke-width="18" stroke-linejoin="round"/>
<polygon points="1282.5,2078.6 1289.7,2078.6 1294.8,2083.7 1294.8,2090.9 1289.7,2096.0 1282.5,2096.0 1277.4,2090.9 1277.4,2083.7" fill="#c95800" stroke="#c95800" stroke-width="18" stroke-linejoin="round"/>
<polygon points="1320.6,2078.6 1327.8,2078.6 1332.9,2083.7 1332.9,2090.9 1327.8,2096.0 1320.6,2096.0 1315.5,2090.9 1315.5,2083.7" fill="#d44c00" stroke="#d44c00" stroke-width="18" stroke-linejoin="round"/>
<polygon points="1359.1,2078.6 1366.3,2078.6 1371.4,2083.7 1371.4,2090.9 1366.3,2096.0 1359.1,2096.0 1354.0,2090.9 1354.0,2083.7" fill="#f52411" stroke="#f52411" stroke-width="18" stroke-linejoin="round"/>
<polygon points="1396.8,2078.6 1404.0,2078.6 1409.1,2083.7 1409.1,2090.9 1404.0,2096.0 1396.8,2096.0 1391.7,2090.9 1391.7,2083.7" fill="#e22133" stroke="#e22133" stroke-width="18" stroke-linejoin="round"/>
<polygon points="1445.2,2088.8 1453.2,2088.8 1458.8,2094.4 1458.8,2102.4 1453.2,2108.0 1445.2,2108.0 1439.6,2102.4 1439.6,2094.4" fill="#9d2089" stroke="#9d2089" stroke-width="18" stroke-linejoin="round"/>
<polygon points="1445.6,2089.7 1452.8,2089.7 1457.9,2094.8 1457.9,2102.0 1452.8,2107.1 1445.6,2107.1 1440.5,2102.0 1440.5,2094.8" fill="#f02e00" stroke="#f02e00" stroke-width="18" stroke-linejoin="round"/>
</g>
<g filter="url(#bl)">
<rect x="214.7" y="1548.50" width="1298.5" height="5.00" fill="#000" fill-opacity="0.75"/>
<rect x="214.7" y="2602.20" width="1298.5" height="5.00" fill="#000" fill-opacity="0.75"/>
<rect x="214.70" y="1548.5" width="5.00" height="1058.7" fill="#000" fill-opacity="0.75"/>
<rect x="1508.20" y="1548.5" width="5.00" height="1058.7" fill="#000" fill-opacity="0.75"/>
<rect x="325.40" y="2607.2" width="4.40" height="18.3" fill="#000" fill-opacity="0.75"/>
<text font-size="50" transform="matrix(0.8602 0 0 1.0429 302.37 2674.47)" stroke="#303030" stroke-width="0.7" stroke-linejoin="round">50</text>
<rect x="538.40" y="2607.2" width="4.40" height="18.3" fill="#000" fill-opacity="0.75"/>
<text font-size="50" transform="matrix(0.8820 0 0 1.0429 495.85 2674.47)" stroke="#303030" stroke-width="0.7" stroke-linejoin="round">100</text>
<rect x="749.80" y="2607.2" width="4.40" height="18.3" fill="#000" fill-opacity="0.75"/>
<text font-size="50" transform="matrix(0.8820 0 0 1.0429 708.65 2674.47)" stroke="#303030" stroke-width="0.7" stroke-linejoin="round">150</text>
<rect x="962.70" y="2607.2" width="4.40" height="18.3" fill="#000" fill-opacity="0.75"/>
<text font-size="50" transform="matrix(0.8881 0 0 1.0429 920.53 2674.47)" stroke="#303030" stroke-width="0.7" stroke-linejoin="round">200</text>
<rect x="1175.20" y="2607.2" width="4.40" height="18.3" fill="#000" fill-opacity="0.75"/>
<text font-size="50" transform="matrix(0.8881 0 0 1.0429 1132.73 2674.47)" stroke="#303030" stroke-width="0.7" stroke-linejoin="round">250</text>
<rect x="1387.30" y="2607.2" width="4.40" height="18.3" fill="#000" fill-opacity="0.75"/>
<text font-size="50" transform="matrix(0.8894 0 0 1.0429 1345.56 2674.47)" stroke="#303030" stroke-width="0.7" stroke-linejoin="round">300</text>
<rect x="200.5" y="1621.70" width="14.2" height="4.40" fill="#000" fill-opacity="0.75"/>
<text font-size="50" transform="matrix(0.8881 0 0 1.0429 95.23 1641.22)" stroke="#303030" stroke-width="0.7" stroke-linejoin="round">250</text>
<rect x="200.5" y="1849.10" width="14.2" height="4.40" fill="#000" fill-opacity="0.75"/>
<text font-size="50" transform="matrix(0.8881 0 0 1.0429 95.23 1868.17)" stroke="#303030" stroke-width="0.7" stroke-linejoin="round">200</text>
<rect x="200.5" y="2071.20" width="14.2" height="4.40" fill="#000" fill-opacity="0.75"/>
<text font-size="50" transform="matrix(0.8820 0 0 1.0429 90.15 2089.77)" stroke="#303030" stroke-width="0.7" stroke-linejoin="round">150</text>
<rect x="200.5" y="2297.50" width="14.2" height="4.40" fill="#000" fill-opacity="0.75"/>
<text font-size="50" transform="matrix(0.8820 0 0 1.0429 90.35 2317.72)" stroke="#303030" stroke-width="0.7" stroke-linejoin="round">100</text>
<rect x="200.5" y="2525.20" width="14.2" height="4.40" fill="#000" fill-opacity="0.75"/>
<text font-size="50" transform="matrix(0.8602 0 0 1.0429 122.97 2544.47)" stroke="#303030" stroke-width="0.7" stroke-linejoin="round">50</text>
<text font-size="50" transform="matrix(0.9478 0 0 1.0184 707.19 2748.20)" stroke="#303030" stroke-width="0.7" stroke-linejoin="round">cent_coord_x</text>
<text font-size="50" transform="matrix(0 -0.9595 1.0605 0 60.60 2241.54)" stroke="#303030" stroke-width="0.7" stroke-linejoin="round">cent_coord_z</text>
<rect x="1592.2" y="1551.0" width="53.2" height="1053.7" fill="url(#cmap)"/>
<rect x="1589.4" y="1548.20" width="58.8" height="5.60" fill="#000" fill-opacity="0.7"/>
<rect x="1589.4" y="2601.90" width="58.8" height="5.60" fill="#000" fill-opacity="0.72"/>
<rect x="1589.40" y="1553.8" width="2.80" height="1048.1" fill="#000" fill-opacity="0.36"/>
<rect x="1592.20" y="1553.8" width="2.80" height="1048.1" fill="#000" fill-opacity="0.76"/>
<rect x="1642.60" y="1553.8" width="2.80" height="1048.1" fill="#000" fill-opacity="0.6"/>
<rect x="1645.40" y="1553.8" width="2.80" height="1048.1" fill="#000" fill-opacity="0.74"/>
<rect x="1648.2" y="1645.20" width="18.3" height="4.40" fill="#000" fill-opacity="0.75"/>
<text font-size="50" transform="matrix(0.9030 0 0 1.0429 1677.83 1669.07)" stroke="#303030" stroke-width="0.7" stroke-linejoin="round">1050</text>
<rect x="1648.2" y="1766.30" width="18.3" height="4.40" fill="#000" fill-opacity="0.75"/>
<text font-size="50" transform="matrix(0.9030 0 0 1.0429 1677.83 1786.12)" stroke="#303030" stroke-width="0.7" stroke-linejoin="round">1000</text>
<rect x="1648.2" y="1883.00" width="18.3" height="4.40" fill="#000" fill-opacity="0.75"/>
<text font-size="50" transform="matrix(0.8831 0 0 1.0429 1678.59 1905.87)" stroke="#303030" stroke-width="0.7" stroke-linejoin="round">950</text>
<rect x="1648.2" y="2003.10" width="18.3" height="4.40" fill="#000" fill-opacity="0.75"/>
<text font-size="50" transform="matrix(0.8831 0 0 1.0429 1678.59 2022.02)" stroke="#303030" stroke-width="0.7" stroke-linejoin="round">900</text>
<rect x="1648.2" y="2124.10" width="18.3" height="4.40" fill="#000" fill-opacity="0.75"/>
<text font-size="50" transform="matrix(0.8856 0 0 1.0429 1678.36 2143.12)" stroke="#303030" stroke-width="0.7" stroke-linejoin="round">850</text>
<rect x="1648.2" y="2239.80" width="18.3" height="4.40" fill="#000" fill-opacity="0.75"/>
<text font-size="50" transform="matrix(0.8856 0 0 1.0429 1678.36 2258.77)" stroke="#303030" stroke-width="0.7" stroke-linejoin="round">800</text>
<rect x="1648.2" y="2360.90" width="18.3" height="4.40" fill="#000" fill-opacity="0.75"/>
<text font-size="50" transform="matrix(0.8932 0 0 1.0429 1677.67 2379.12)" stroke="#303030" stroke-width="0.7" stroke-linejoin="round">750</text>
<rect x="1648.2" y="2476.60" width="18.3" height="4.40" fill="#000" fill-opacity="0.75"/>
<text font-size="50" transform="matrix(0.8932 0 0 1.0429 1677.67 2500.27)" stroke="#303030" stroke-width="0.7" stroke-linejoin="round">700</text>
<rect x="1648.2" y="2597.30" width="18.3" height="4.40" fill="#000" fill-opacity="0.75"/>
<text font-size="50" transform="matrix(0.8869 0 0 1.0429 1678.25 2616.42)" stroke="#303030" stroke-width="0.7" stroke-linejoin="round">650</text>
</g></g>
<g id="captions" fill="#000" font-family="'Liberation Serif', 'DejaVu Serif', serif" font-size="50">
<text transform="matrix(1.432 0 0 1.553 0 1376.90)" stroke="#000" stroke-width="0.28"><tspan x="607.60">(</tspan><tspan x="624.63" font-weight="bold" stroke="none">a</tspan><tspan x="650.54">)</tspan></text>
<text transform="matrix(1.432 0 0 1.553 0 2894.60)" stroke="#000" stroke-width="0.28"><tspan x="599.01">(</tspan><tspan x="616.90" font-weight="bold" stroke="none">b</tspan><tspan x="647.05">)</tspan></text>
</g>
</svg></body></html>
